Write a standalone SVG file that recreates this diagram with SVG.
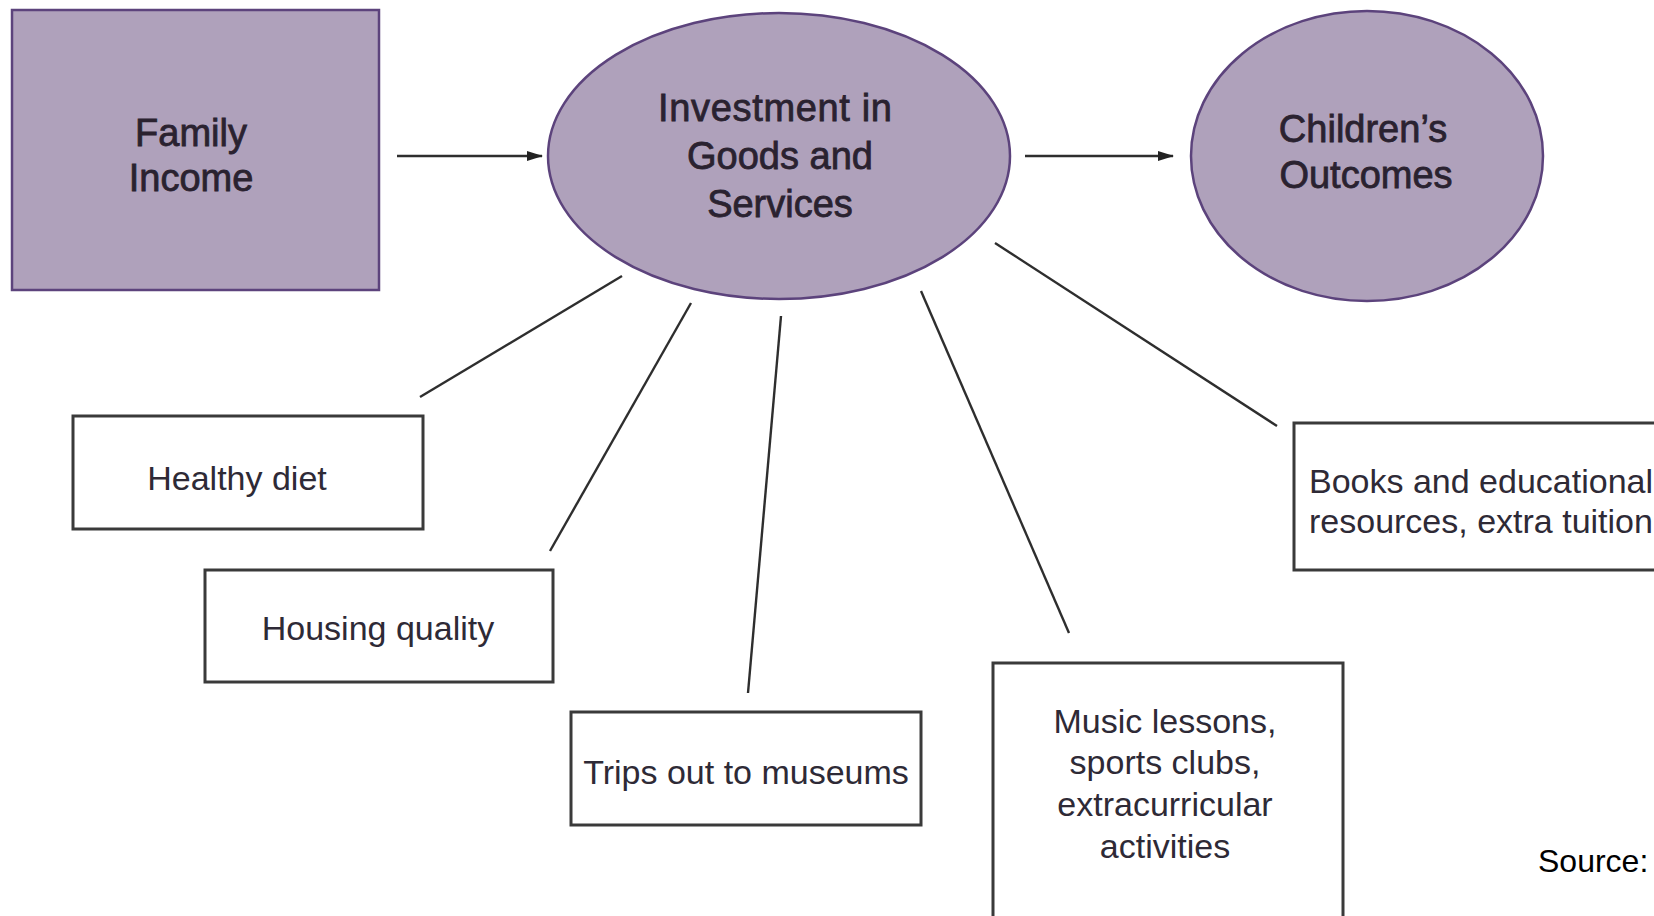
<svg xmlns="http://www.w3.org/2000/svg" width="1654" height="916" viewBox="0 0 1654 916">
  <style>
    .purple { fill: #afa1bb; stroke: #5c437c; stroke-width: 2.5; }
    .box { fill: #ffffff; stroke: #3a3a3a; stroke-width: 3; }
    .big { font-family: "Liberation Sans", Arial, sans-serif; font-size: 38px; fill: #2a2230; stroke: #2a2230; stroke-width: 0.8; text-anchor: middle; }
    .small { font-family: "Liberation Sans", Arial, sans-serif; font-size: 34px; fill: #2e2a36; text-anchor: middle; }
    .link { stroke: #2e2e2e; stroke-width: 2.4; fill: none; }
    .source { font-family: "Liberation Sans", Arial, sans-serif; font-size: 32px; fill: #000000; }
  </style>
  <defs>
    <marker id="head" markerWidth="16" markerHeight="12" refX="15" refY="6" orient="auto" markerUnits="userSpaceOnUse" viewBox="0 0 16 12">
      <path d="M0,1 L16,6 L0,11 Z" fill="#222222"/>
    </marker>
  </defs>
  <rect width="1654" height="916" fill="#ffffff"/>

  <!-- connectors -->
  <g id="connectors">
    <line class="link" x1="397" y1="156" x2="542" y2="156" marker-end="url(#head)"/>
    <line class="link" x1="1025" y1="156" x2="1173" y2="156" marker-end="url(#head)"/>
    <line class="link" x1="622" y1="276" x2="420" y2="397"/>
    <line class="link" x1="691" y1="303" x2="550" y2="551"/>
    <line class="link" x1="781" y1="316" x2="748" y2="693"/>
    <line class="link" x1="921" y1="291" x2="1069" y2="633"/>
    <line class="link" x1="995" y1="243" x2="1277" y2="426"/>
  </g>

  <!-- main chain -->
  <g id="family-income">
    <rect class="purple" x="12" y="10" width="367" height="280"/>
    <text class="big" x="191" y="146">Family</text>
    <text class="big" x="191" y="191">Income</text>
  </g>
  <g id="investment">
    <ellipse class="purple" cx="779" cy="156" rx="231" ry="143"/>
    <text class="big" x="775" y="121" textLength="234">Investment in</text>
    <text class="big" x="780" y="169">Goods and</text>
    <text class="big" x="780" y="217">Services</text>
  </g>
  <g id="outcomes">
    <ellipse class="purple" cx="1367" cy="156" rx="176" ry="145"/>
    <text class="big" x="1363" y="142">Children’s</text>
    <text class="big" x="1366" y="188">Outcomes</text>
  </g>

  <!-- goods and services -->
  <g id="healthy-diet">
    <rect class="box" x="73" y="416" width="350" height="113"/>
    <text class="small" x="237" y="490">Healthy diet</text>
  </g>
  <g id="housing">
    <rect class="box" x="205" y="570" width="348" height="112"/>
    <text class="small" x="378" y="640">Housing quality</text>
  </g>
  <g id="trips">
    <rect class="box" x="571" y="712" width="350" height="113"/>
    <text class="small" x="746" y="784">Trips out to museums</text>
  </g>
  <g id="activities">
    <rect class="box" x="993" y="663" width="350" height="280"/>
    <text class="small" x="1165" y="733">Music lessons,</text>
    <text class="small" x="1165" y="774">sports clubs,</text>
    <text class="small" x="1165" y="816">extracurricular</text>
    <text class="small" x="1165" y="858">activities</text>
  </g>
  <g id="books">
    <rect class="box" x="1294" y="423" width="400" height="147"/>
    <text class="small" x="1309" y="493" style="text-anchor:start">Books and educational</text>
    <text class="small" x="1309" y="533" style="text-anchor:start">resources, extra tuition</text>
  </g>

  <text class="source" x="1538" y="872">Source:</text>
</svg>
